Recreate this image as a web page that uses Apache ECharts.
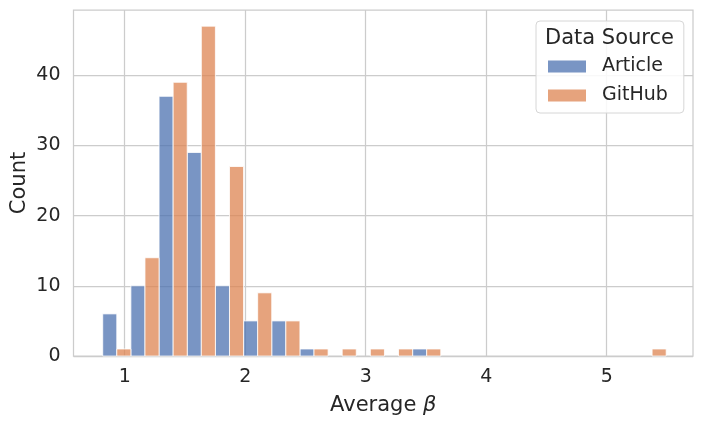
<!DOCTYPE html>
<html>
<head>
<meta charset="utf-8">
<script src="https://cdn.jsdelivr.net/npm/echarts@6/dist/echarts.min.js"></script>
<style>html,body{margin:0;padding:0;background:#fff;}#c{width:704px;height:428px;}</style>
</head>
<body>
<div id="c"></div>
<script>
// Histogram definition
const binStart = 0.8174;
const binWidth = 0.2338;
const articleCounts = [6, 10, 37, 29, 10, 5, 5, 1, 0, 0, 0, 1, 0, 0, 0, 0, 0, 0, 0, 0];
const githubCounts  = [1, 14, 39, 47, 27, 9, 5, 1, 1, 1, 1, 1, 0, 0, 0, 0, 0, 0, 0, 1];
const seriesNames = ['Article', 'GitHub'];
const xTicks = [1, 2, 3, 4, 5];
const yTicks = [0, 10, 20, 30, 40];

const textColor = '#262626';
const gridColor = '#cccccc';
const colors = ['rgba(76,114,176,0.75)', 'rgba(221,132,82,0.75)'];

function makeData(counts) {
  return counts.map((c, i) => [binStart + i * binWidth, binStart + (i + 1) * binWidth, c]);
}

function renderer(half) {
  return function (params, api) {
    const s = api.value(0), e = api.value(1), c = api.value(2);
    if (!c) return null;
    const m = (s + e) / 2;
    const x0 = half === 0 ? s : m;
    const x1 = half === 0 ? m : e;
    const p0 = api.coord([x0, c]);
    const p1 = api.coord([x1, 0]);
    return {
      type: 'rect',
      shape: { x: p0[0], y: p0[1], width: p1[0] - p0[0], height: p1[1] - p0[1] },
      style: { fill: colors[half], stroke: '#ffffff', lineWidth: 0.8 }
    };
  };
}

const chart = echarts.init(document.getElementById('c'), null, { renderer: 'canvas' });
chart.setOption({
  animation: false,
  backgroundColor: '#ffffff',
  textStyle: { fontFamily: 'DejaVu Sans', color: textColor },
  title: {
    text: 'Data Source',
    left: 540,
    top: 23,
    z: 20,
    textStyle: { fontFamily: 'DejaVu Sans', fontSize: 21, fontWeight: 'normal', color: textColor }
  },
  legend: {
    data: seriesNames,
    orient: 'vertical',
    left: 536,
    top: 21,
    padding: [36, 16, 8, 12],
    itemWidth: 38,
    itemHeight: 12,
    itemGap: 10,
    borderColor: '#d6d6d6',
    borderWidth: 1,
    borderRadius: 4,
    backgroundColor: 'rgba(255,255,255,0.85)',
    icon: 'rect',
    textStyle: { fontFamily: 'DejaVu Sans', fontSize: 19, color: textColor, padding: [0, 0, 0, 11] },
    z: 10
  },
  grid: {
    left: 73.5, right: 11, top: 10, bottom: 72,
    outerBoundsMode: 'none',
    containLabel: false,
    show: true, borderColor: gridColor, borderWidth: 1.25, backgroundColor: 'transparent'
  },
  xAxis: {
    type: 'value',
    min: 0.575,
    max: 5.716,
    name: 'Average {i|β}',
    nameLocation: 'middle',
    nameGap: 39,
    nameMoveOverlap: false,
    nameTextStyle: {
      fontFamily: 'DejaVu Sans', fontSize: 21, color: textColor,
      rich: { i: { fontFamily: 'DejaVu Sans', fontStyle: 'italic', fontSize: 21, color: textColor } }
    },
    axisLine: { show: false },
    axisTick: { show: false, customValues: xTicks },
    axisLabel: { customValues: xTicks, fontSize: 19, color: textColor, margin: 12, fontFamily: 'DejaVu Sans' },
    splitLine: { show: true, lineStyle: { color: gridColor, width: 1.25 } }
  },
  yAxis: {
    type: 'value',
    min: 0,
    max: 49.3,
    name: 'Count',
    nameLocation: 'middle',
    nameGap: 43,
    nameMoveOverlap: false,
    nameTextStyle: { fontFamily: 'DejaVu Sans', fontSize: 21, color: textColor },
    axisLine: { show: false },
    axisTick: { show: false, customValues: yTicks },
    axisLabel: { customValues: yTicks, fontSize: 19, color: textColor, margin: 13, fontFamily: 'DejaVu Sans' },
    splitLine: { show: true, lineStyle: { color: gridColor, width: 1.25 } }
  },
  series: [
    { name: seriesNames[0], type: 'custom', renderItem: renderer(0), itemStyle: { color: colors[0] }, data: makeData(articleCounts), encode: { x: [0, 1], y: 2 } },
    { name: seriesNames[1], type: 'custom', renderItem: renderer(1), itemStyle: { color: colors[1] }, data: makeData(githubCounts), encode: { x: [0, 1], y: 2 } }
  ]
});
</script>
</body>
</html>
